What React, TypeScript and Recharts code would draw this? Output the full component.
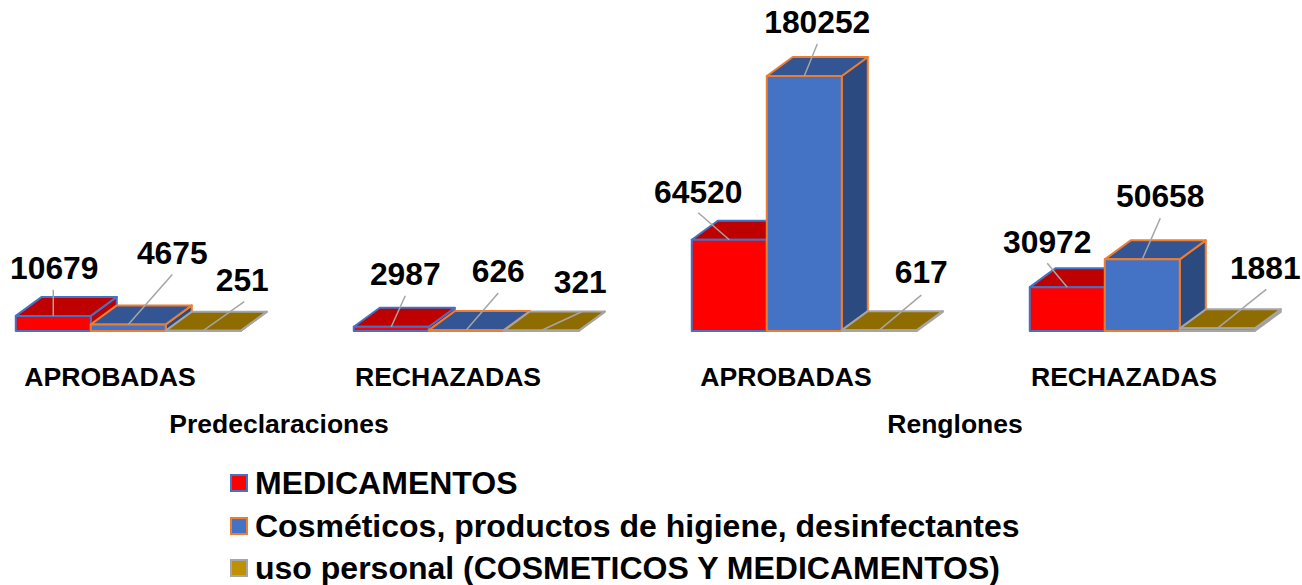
import React from 'react';
import { BarChart, Bar, XAxis, YAxis, Legend, LabelList } from 'recharts';

const categories = ['APROBADAS', 'RECHAZADAS', 'APROBADAS', 'RECHAZADAS'];
const groups = ['Predeclaraciones', 'Predeclaraciones', 'Renglones', 'Renglones'];
const medicamentos = [10679, 2987, 64520, 30972];
const cosmeticos = [4675, 626, 180252, 50658];
const usoPersonal = [251, 321, 617, 1881];

const chartData = categories.map((name, i) => ({
  id: i,
  name,
  group: groups[i],
  medicamentos: medicamentos[i],
  cosmeticos: cosmeticos[i],
  usoPersonal: usoPersonal[i],
}));

const FONT = '"Liberation Sans", Arial, sans-serif';
const DEPTH_X = 26;
const DEPTH_Y = 19;

// [label dx, label baseline dy, leader end dx, leader end dy] from the top centre of the front face
const LABEL_OFFSETS: Record<string, number[][]> = {
  medicamentos: [[1, -37, 0, -26], [14, -42, 14, -31], [-31, -37, -31, -27], [-20, -34, -20, -24]],
  cosmeticos: [[44, -60, 44, -50], [32, -48, 32, -37], [13, -43, 13, -32], [18, -52, 18, -41]],
  usoPersonal: [[39, -40, 41, -29], [39, -38, 41, -19], [42, -47, 42, -35], [48, -49, 49, -39]],
};

const SERIES = [
  { key: 'medicamentos', name: 'MEDICAMENTOS', fill: '#FF0000', top: '#BF0000', side: '#BF0000', stroke: '#4472C4' },
  { key: 'cosmeticos', name: 'Cosméticos, productos de higiene, desinfectantes', fill: '#4472C4', top: '#335593', side: '#2B4A80', stroke: '#ED7D31' },
  { key: 'usoPersonal', name: 'uso personal (COSMETICOS Y MEDICAMENTOS)', fill: '#BF9000', top: '#8F6C00', side: '#8F6C00', stroke: '#A5A5A5' },
];

const makeBox = (s: (typeof SERIES)[number]) => (props: any) => {
  const { x, y, width, height } = props;
  const r = x + width;
  const b = y + height;
  return (
    <g stroke={s.stroke} strokeWidth={2} strokeLinejoin="round">
      <polygon points={`${r},${y} ${r + DEPTH_X},${y - DEPTH_Y} ${r + DEPTH_X},${b - DEPTH_Y} ${r},${b}`} fill={s.side} />
      <polygon points={`${x},${y} ${x + DEPTH_X},${y - DEPTH_Y} ${r + DEPTH_X},${y - DEPTH_Y} ${r},${y}`} fill={s.top} />
      <rect x={x} y={y} width={width} height={height} fill={s.fill} />
    </g>
  );
};

const makeLabel = (key: string) => (props: any) => {
  const { x, y, width, value, index } = props;
  const [lx, ly, ex, ey] = LABEL_OFFSETS[key][index];
  const cx = x + width / 2;
  return (
    <g>
      <line x1={cx} y1={y} x2={cx + ex} y2={y + ey} stroke="#A5A5A5" strokeWidth={1.5} />
      <text x={cx + lx} y={y + ly} textAnchor="middle" fontFamily={FONT} fontSize={31.8} fontWeight="bold" fill="#000">
        {value}
      </text>
    </g>
  );
};

const CategoryTick = (props: any) => (
  <text x={props.x - 19} y={props.y + 47} textAnchor="middle" fontFamily={FONT} fontSize={26.6} fontWeight="bold" fill="#000">
    {props.payload.value}
  </text>
);

const GroupTick = (props: any) => (
  <text x={props.x - 19} y={props.y + 44} textAnchor="middle" fontFamily={FONT} fontSize={26.5} fontWeight="bold" fill="#000">
    {props.payload.value}
  </text>
);

const LegendRows = () => (
  <div>
    {SERIES.map(s => (
      <div key={s.key} style={{ display: 'flex', alignItems: 'center', height: 42.5 }}>
        <svg width={18} height={18} style={{ flex: 'none' }}>
          <rect x={1} y={1} width={16} height={16} fill={s.fill} stroke={s.stroke} strokeWidth={2} />
        </svg>
        <span style={{ marginLeft: 7, fontFamily: FONT, fontSize: 32, fontWeight: 'bold', color: '#000', whiteSpace: 'nowrap', lineHeight: '42px' }}>
          {s.name}
        </span>
      </div>
    ))}
  </div>
);

export default function App() {
  return (
    <div style={{ position: 'absolute', left: 0, top: 0, width: 1302, height: 585, background: '#fff', overflow: 'hidden' }}>
      <BarChart
        width={1302}
        height={585}
        data={chartData}
        margin={{ top: 48, right: 0, bottom: 26.5, left: 0 }}
        barCategoryGap="16.5%"
        barGap={0}
      >
        <XAxis
          dataKey="id"
          height={50}
          padding={{ left: -40, right: -10 }}
          axisLine={false}
          tickLine={false}
          interval={0}
          tick={(p: any) => <CategoryTick {...p} payload={{ value: categories[p.payload.value] }} />}
        />
        <XAxis
          xAxisId="group"
          dataKey="group"
          allowDuplicatedCategory={false}
          height={50}
          padding={{ left: -40, right: -10 }}
          axisLine={false}
          tickLine={false}
          interval={0}
          tick={GroupTick}
        />
        <YAxis hide domain={[0, 200000]} />
        <Legend
          layout="vertical"
          align="center"
          content={LegendRows}
          wrapperStyle={{ left: 230, top: 462, width: 900, bottom: 'auto', right: 'auto' }}
        />
        {SERIES.map(s => (
          <Bar key={s.key} dataKey={s.key} name={s.name} fill={s.fill} shape={makeBox(s)} isAnimationActive={false}>
            <LabelList dataKey={s.key} content={makeLabel(s.key)} />
          </Bar>
        ))}
      </BarChart>
    </div>
  );
}
